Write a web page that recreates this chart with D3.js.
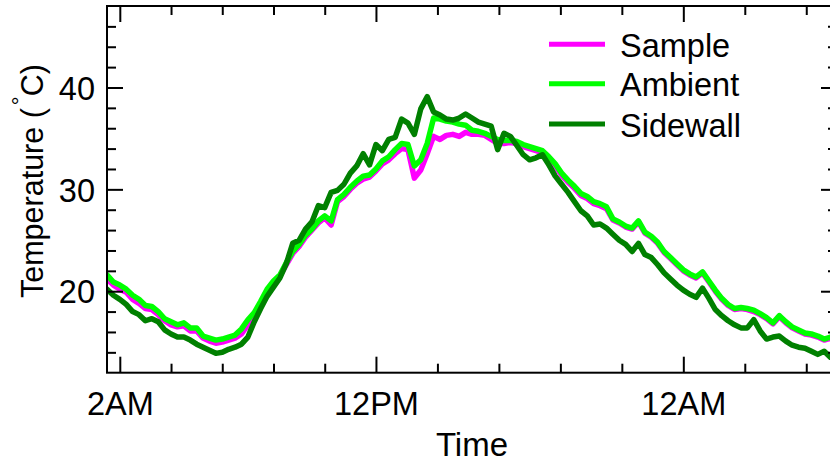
<!DOCTYPE html>
<html>
<head>
<meta charset="utf-8">
<script src="https://cdn.jsdelivr.net/npm/d3@7"></script>
<style>
  html, body { margin: 0; padding: 0; background: #fff; }
  svg { display: block; font-family: "Liberation Sans", Arial, Helvetica, sans-serif; }
</style>
</head>
<body>
<svg id="chart" width="830" height="465"></svg>
<script>
// ---- data (hours since midnight of day 1) ----
const hours = [1.5,1.75,2,2.25,2.5,2.75,3,3.25,3.5,3.75,4,4.25,4.5,4.75,5,5.25,5.5,5.75,6,6.25,
  6.5,6.75,7,7.25,7.5,7.75,8,8.25,8.5,8.75,9,9.25,9.5,9.75,10,10.25,10.5,10.75,11,11.25,
  11.5,11.75,12,12.25,12.5,12.75,13,13.25,13.5,13.75,14,14.25,14.5,14.75,15,15.25,15.5,15.75,16,16.25,
  16.5,16.75,17,17.25,17.5,17.75,18,18.25,18.5,18.75,19,19.25,19.5,19.75,20,20.25,20.5,20.75,21,21.25,
  21.5,21.75,22,22.25,22.5,22.75,23,23.25,23.5,23.75,24,24.25,24.5,24.75,25,25.25,25.5,25.75,26,26.25,
  26.5,26.75,27,27.25,27.5,27.75,28,28.25,28.5,28.75,29,29.25,29.5,29.75,30];

const sample = [21.2,20.6,20.2,19.9,19.2,18.8,18.3,18.2,17.7,17.1,16.7,16.5,16.6,16.1,16.1,15.4,15.1,14.9,15.0,15.2,
  15.4,15.8,16.7,17.5,18.7,19.9,20.8,21.5,22.6,23.7,24.4,25.3,26.0,26.7,27.2,26.5,28.8,29.3,30.0,30.6,
  31.0,31.2,31.8,32.5,32.9,33.5,34.0,33.9,31.1,31.9,33.5,35.2,34.9,35.3,35.4,35.2,35.6,35.4,35.4,35.3,
  34.9,34.5,34.5,34.6,34.5,34.2,34.0,33.8,33.6,33.0,32.3,31.4,30.7,30.1,29.4,29.1,28.6,28.4,28.1,27.0,
  26.7,26.3,26.1,26.8,25.7,25.3,24.7,23.8,23.2,22.6,22.0,21.6,21.3,21.8,20.9,20.0,19.2,18.6,18.2,18.3,
  18.2,18.0,17.7,17.3,16.8,17.5,16.9,16.4,16.1,15.8,15.7,15.5,15.2,15.4,15.1];

const ambient = [21.6,20.9,20.6,20.2,19.6,19.2,18.6,18.5,18.0,17.3,17.0,16.7,16.9,16.4,16.4,15.6,15.4,15.2,15.3,15.5,
  15.7,16.3,17.2,17.9,19.0,20.2,21.0,21.6,22.8,23.9,24.6,25.5,26.1,26.9,27.4,26.9,29.0,29.5,30.2,30.8,
  31.3,31.4,32.0,32.8,33.2,33.9,34.5,34.4,32.3,32.9,34.5,37.0,36.9,36.7,36.6,36.4,36.3,35.8,35.7,35.5,
  35.2,34.9,34.8,34.8,34.7,34.4,34.2,34.0,33.8,33.2,32.5,31.6,30.9,30.3,29.6,29.3,28.8,28.6,28.3,27.1,
  26.8,26.4,26.2,26.9,25.8,25.4,24.8,23.9,23.3,22.7,22.1,21.7,21.4,21.9,21.0,20.1,19.3,18.7,18.3,18.4,
  18.3,18.15,17.8,17.4,16.9,17.6,17.0,16.5,16.2,15.9,15.8,15.6,15.3,15.5,15.2];

const sidewall = [20.2,19.6,19.2,18.7,18.0,17.7,17.1,17.3,17.0,16.2,15.8,15.5,15.5,15.2,14.8,14.5,14.2,13.9,14.0,14.3,
  14.5,14.8,15.5,17.0,18.3,19.5,20.4,21.3,22.7,24.7,25.0,26.1,26.8,28.4,28.2,29.7,29.9,30.5,31.6,32.3,
  33.5,32.4,34.4,33.8,34.9,35.1,36.9,36.5,35.4,37.9,39.1,37.6,37.3,36.9,36.8,37.0,37.4,37.0,36.6,36.4,
  36.2,33.9,35.5,35.2,34.3,33.4,32.9,33.1,33.4,32.4,31.3,30.5,29.7,28.8,27.9,27.4,26.5,26.6,26.2,25.6,
  25.0,24.6,23.9,24.7,23.6,23.3,22.6,21.8,21.2,20.6,20.1,19.7,19.4,20.3,19.3,18.2,17.6,17.1,16.7,16.4,
  16.4,17.2,16.1,15.3,15.5,15.6,15.1,14.7,14.5,14.4,14.1,13.8,14.1,13.5,13.4];

const seriesNames = ["Sample", "Ambient", "Sidewall"];
const seriesColors = ["#ff00ff", "#00ff00", "#008000"];
const seriesValues = [sample, ambient, sidewall];

const xMajorTicks = [2, 12, 24];
const xMajorLabels = ["2AM", "12PM", "12AM"];
const xMinorTicks = [4, 6, 8, 10, 14.4, 16.8, 19.2, 21.6, 26.4, 28.8];
const yMajorTicks = [20, 30, 40];
const yMinorTicks = [14, 16, 18, 22, 24, 26, 28, 32, 34, 36, 38, 42, 44, 46];

// ---- layout ----
const svg = d3.select("#chart");
const L = 107, R = 837, T = 6, B = 372.7;
const x = d3.scaleLinear().domain([1.5, 30]).range([L, R]);
const y = d3.scaleLinear().domain([12, 48]).range([B, T]);
const FS = 32.5;

svg.append("defs").append("clipPath").attr("id", "clip")
  .append("rect").attr("x", L).attr("y", T).attr("width", R - L).attr("height", B - T);

// ---- data lines ----
const line = d3.line().x((d, i) => x(hours[i])).y(d => y(d));
const plot = svg.append("g").attr("clip-path", "url(#clip)");
seriesValues.forEach((vals, k) => {
  plot.append("path").datum(vals)
    .attr("d", line)
    .attr("fill", "none")
    .attr("stroke", seriesColors[k])
    .attr("stroke-width", 5.5)
    .attr("stroke-linejoin", "round")
    .attr("stroke-linecap", "round");
});

// ---- axes ----
function styleAxis(g) {
  g.select(".domain").remove();
  g.selectAll(".tick line").attr("stroke", "#000").attr("stroke-width", 2);
  g.selectAll(".tick text").attr("fill", "#000").attr("font-size", FS)
    .attr("font-family", "'Liberation Sans', Arial, sans-serif");
}
const MAJ = 16, MIN = 9;

// bottom
svg.append("g").attr("transform", `translate(0,${B})`)
  .call(d3.axisBottom(x).tickValues(xMajorTicks).tickSize(-MAJ).tickPadding(19)
    .tickFormat((d, i) => xMajorLabels[i]))
  .call(styleAxis);
svg.append("g").attr("transform", `translate(0,${B})`)
  .call(d3.axisBottom(x).tickValues(xMinorTicks).tickSize(-MIN).tickFormat(""))
  .call(styleAxis);
// top
svg.append("g").attr("transform", `translate(0,${T})`)
  .call(d3.axisTop(x).tickValues(xMajorTicks).tickSize(-MAJ).tickFormat(""))
  .call(styleAxis);
svg.append("g").attr("transform", `translate(0,${T})`)
  .call(d3.axisTop(x).tickValues(xMinorTicks).tickSize(-MIN).tickFormat(""))
  .call(styleAxis);
// left
svg.append("g").attr("transform", `translate(${L},0)`)
  .call(d3.axisLeft(y).tickValues(yMajorTicks).tickSize(-MAJ).tickPadding(12).tickFormat(d3.format("d")))
  .call(styleAxis)
  .call(g => g.selectAll(".tick text").attr("dy", "0.36em"));
svg.append("g").attr("transform", `translate(${L},0)`)
  .call(d3.axisLeft(y).tickValues(yMinorTicks).tickSize(-MIN).tickFormat(""))
  .call(styleAxis);
// right
svg.append("g").attr("transform", `translate(${R},0)`)
  .call(d3.axisRight(y).tickValues(yMajorTicks).tickSize(-MAJ).tickFormat(""))
  .call(styleAxis);
svg.append("g").attr("transform", `translate(${R},0)`)
  .call(d3.axisRight(y).tickValues(yMinorTicks).tickSize(-MIN).tickFormat(""))
  .call(styleAxis);

// frame
svg.append("rect").attr("x", L).attr("y", T).attr("width", R - L).attr("height", B - T)
  .attr("fill", "none").attr("stroke", "#000").attr("stroke-width", 2);

// ---- axis titles ----
svg.append("text")
  .attr("x", (L + R) / 2).attr("y", 456)
  .attr("text-anchor", "middle").attr("font-size", 33).attr("fill", "#000")
  .text("Time");

const yl = svg.append("text")
  .attr("transform", "translate(43,298) rotate(-90)")
  .attr("text-anchor", "start").attr("font-size", 30.5).attr("fill", "#000");
yl.append("tspan").text("Temperature (");
yl.append("tspan").attr("dx", 3).attr("dy", -15).attr("font-size", 22).text("°");
yl.append("tspan").attr("dy", 15).text("C)");

// ---- legend ----
const legendY = [44.3, 83.8, 124];
seriesNames.forEach((name, k) => {
  svg.append("line")
    .attr("x1", 549).attr("x2", 605).attr("y1", legendY[k]).attr("y2", legendY[k])
    .attr("stroke", seriesColors[k]).attr("stroke-width", 5);
  svg.append("text")
    .attr("x", 620).attr("y", legendY[k] + 12.5)
    .attr("font-size", FS).attr("fill", "#000")
    .text(name);
});
</script>
</body>
</html>
